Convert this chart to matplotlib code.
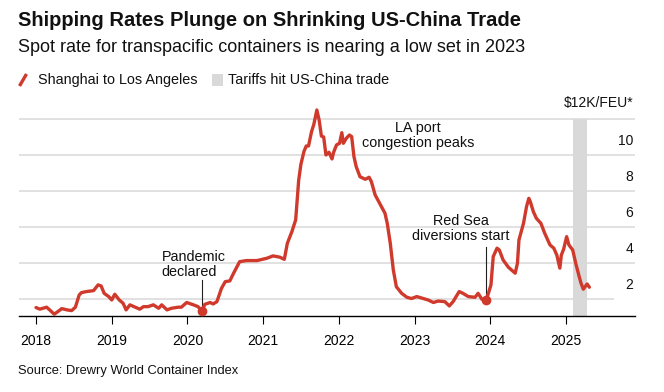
import matplotlib
matplotlib.use('Agg')
import matplotlib.pyplot as plt
import matplotlib.transforms as mtransforms
from matplotlib.lines import Line2D
from matplotlib.patches import Rectangle

W, H, DPI = 664, 392, 100

# ---- data (decimal years, $K per FEU) ----
dates = [2018.00, 2018.05, 2018.14, 2018.18, 2018.24, 2018.29, 2018.34, 2018.41, 2018.47, 2018.52,
         2018.57, 2018.60, 2018.67, 2018.76, 2018.82, 2018.86, 2018.90, 2018.96, 2019.00, 2019.04,
         2019.10, 2019.15, 2019.19, 2019.24, 2019.31, 2019.37, 2019.42, 2019.48, 2019.55, 2019.62,
         2019.66, 2019.73, 2019.79, 2019.88, 2019.92, 2019.99, 2020.08, 2020.14, 2020.19, 2020.23,
         2020.30, 2020.34, 2020.39, 2020.45, 2020.50, 2020.56, 2020.61, 2020.69, 2020.78, 2020.92,
         2021.05, 2021.13, 2021.22, 2021.28, 2021.32, 2021.38, 2021.43, 2021.47, 2021.50, 2021.54,
         2021.57, 2021.60, 2021.64, 2021.67, 2021.71, 2021.74, 2021.77, 2021.80, 2021.83, 2021.87,
         2021.91, 2021.93, 2021.97, 2022.01, 2022.04, 2022.06, 2022.10, 2022.14, 2022.17, 2022.20,
         2022.23, 2022.28, 2022.35, 2022.40, 2022.43, 2022.48, 2022.54, 2022.61, 2022.64, 2022.68,
         2022.72, 2022.76, 2022.83, 2022.90, 2022.96, 2023.03, 2023.10, 2023.18, 2023.25, 2023.31,
         2023.40, 2023.46, 2023.51, 2023.59, 2023.64, 2023.71, 2023.80, 2023.84, 2023.89, 2023.94,
         2023.97, 2024.01, 2024.04, 2024.09, 2024.12, 2024.17, 2024.24, 2024.33, 2024.36, 2024.38,
         2024.44, 2024.48, 2024.51, 2024.53, 2024.57, 2024.61, 2024.67, 2024.72, 2024.79, 2024.84,
         2024.88, 2024.92, 2024.94, 2024.97, 2025.01, 2025.04, 2025.09, 2025.13, 2025.17, 2025.20,
         2025.23, 2025.28, 2025.31]
rates = [1.52, 1.43, 1.54, 1.39, 1.15, 1.30, 1.46, 1.39, 1.35, 1.54,
         2.22, 2.35, 2.41, 2.46, 2.78, 2.72, 2.31, 2.13, 1.94, 2.26,
         1.94, 1.76, 1.39, 1.67, 1.54, 1.43, 1.57, 1.57, 1.67, 1.48,
         1.67, 1.39, 1.48, 1.54, 1.54, 1.80, 1.67, 1.57, 1.32, 1.70,
         1.80, 1.72, 1.85, 2.59, 2.96, 3.00, 3.43, 4.07, 4.13, 4.13,
         4.26, 4.39, 4.32, 4.20, 5.09, 5.74, 6.39, 8.60, 9.50, 10.20,
         10.50, 10.50, 11.30, 11.70, 12.50, 11.94, 11.05, 11.00, 10.00, 10.15,
         9.78, 10.13, 10.56, 10.65, 11.24, 10.65, 10.93, 11.11, 11.02, 9.91,
         9.35, 8.79, 8.65, 8.76, 8.52, 7.78, 7.31, 6.76, 6.20, 5.09,
         3.61, 2.68, 2.31, 2.09, 2.02, 2.13, 2.04, 1.94, 1.80, 1.88,
         1.85, 1.61, 1.85, 2.41, 2.31, 2.13, 2.09, 2.31, 1.98, 1.94,
         2.22, 2.78, 4.35, 4.82, 4.72, 4.17, 3.76, 3.43, 3.98, 5.28,
         6.20, 7.13, 7.59, 7.41, 6.85, 6.48, 6.20, 5.65, 5.00, 4.82,
         4.44, 3.71, 4.44, 4.76, 5.46, 5.00, 4.72, 3.98, 3.33, 2.87,
         2.54, 2.83, 2.65]
year_ticks = [2018, 2019, 2020, 2021, 2022, 2023, 2024, 2025]
year_labels = [str(y) for y in year_ticks]
y_grid = [2, 4, 6, 8, 10, 12]
y_labels = ['2', '4', '6', '8', '10', '\\$12K/FEU*']
tariff_span = (2025.09, 2025.28)
pandemic = (2020.19, 1.32)
red_sea = (2023.94, 1.94)

RED = '#d03a2c'
GRID = '#dedede'
SHADE = '#d9d9d9'

plt.rcParams['font.family'] = ['Liberation Sans', 'DejaVu Sans']

fig = plt.figure(figsize=(W / DPI, H / DPI), dpi=DPI)


def fx(x):
    return x / W


def fy(y):
    return 1 - y / H


X0, X1, XMIN, XMAX = 19, 635, 2017.775, 2025.913
ax = fig.add_axes([fx(X0), fy(316), fx(X1) - fx(X0), fy(101) - fy(316)])
ax.set_xlim(XMIN, XMAX)
ax.set_ylim(1.05, 13.0)
for s in ['top', 'left', 'right']:
    ax.spines[s].set_visible(False)
ax.spines['bottom'].set_color('black')
ax.spines['bottom'].set_linewidth(1.0)
ax.set_yticks([])
ax.set_xticks(year_ticks)
ax.set_xticklabels(year_labels)
ax.tick_params(axis='x', length=6, width=0.8, color='black', pad=7)

# gridlines
for v in y_grid:
    xend = XMIN + (614 - X0) / (X1 - X0) * (XMAX - XMIN) if v == 2 else XMAX
    ax.plot([XMIN, xend], [v, v], color=GRID, lw=1.3, zorder=0, solid_capstyle='butt')

# tariff shading
ax.axvspan(tariff_span[0], tariff_span[1], ymin=0, ymax=(12 - 1.05) / (13 - 1.05),
           color=SHADE, lw=0, zorder=0.5)

# series
ax.plot(dates, rates, color=RED, lw=2.4, solid_joinstyle='round', solid_capstyle='round',
        clip_on=False, zorder=3)

# event markers and leader lines
ax.plot([pandemic[0]], [pandemic[1]], 'o', ms=6, color=RED, zorder=4, clip_on=False)
ax.plot([red_sea[0]], [red_sea[1]], 'o', ms=6, color=RED, zorder=4, clip_on=False)
ax.plot([pandemic[0], pandemic[0]], [pandemic[1] + 0.1, 3.05], color='#222222', lw=0.8, zorder=2)
ax.plot([red_sea[0], red_sea[0]], [red_sea[1] + 0.1, 4.9], color='#222222', lw=0.8, zorder=2)

ann_pand = ax.text(2019.66, 3.93, 'Pandemic\ndeclared', ha='left', va='center',
                   fontsize=10.5, linespacing=1.1, color='#111111')
ann_red = ax.text(2023.61, 5.89, 'Red Sea\ndiversions start', ha='center', va='center',
                  fontsize=10.5, linespacing=1.1, color='#111111')
ann_la = ax.text(2023.05, 11.07, 'LA port\ncongestion peaks', ha='center', va='center',
                 fontsize=10.5, linespacing=1.1, color='#111111')

# y labels above gridlines, right-aligned
blend = mtransforms.blended_transform_factory(ax.transAxes, ax.transData)
ylab_objs = []
for v, lab in zip(y_grid, y_labels):
    off = 0.9 if v == 12 else 0.78
    ylab_objs.append(ax.text((633 - X0) / (X1 - X0), v + off, lab, transform=blend,
                             ha='right', va='center', fontsize=10, color='#111111'))

# header
title = fig.text(fx(18), fy(21), 'Shipping Rates Plunge on Shrinking US-China Trade',
                 ha='left', va='center', fontsize=14, fontweight='bold', color='#111111')
subtitle = fig.text(fx(18), fy(48), 'Spot rate for transpacific containers is nearing a low set in 2023',
                    ha='left', va='center', fontsize=12.5, color='#111111')
leg1 = fig.text(fx(37.5), fy(80), 'Shanghai to Los Angeles', ha='left', va='center',
                fontsize=10.5, color='#111111')
leg2 = fig.text(fx(228.5), fy(80), 'Tariffs hit US-China trade', ha='left', va='center',
                fontsize=10.5, color='#111111')
fig.add_artist(Line2D([fx(19.5), fx(26.5)], [fy(86), fy(74)], color=RED, lw=2.4,
                      solid_capstyle='butt'))
fig.add_artist(Rectangle((fx(211.5), fy(86)), fx(11), fy(74) - fy(86), color=SHADE, lw=0))
source = fig.text(fx(18), fy(371), 'Source: Drewry World Container Index', ha='left', va='center',
                  fontsize=10, color='#111111')

# fit text widths to the reference
fig.canvas.draw()
r = fig.canvas.get_renderer()


def fit(t, target):
    w = t.get_window_extent(r).width
    t.set_fontsize(t.get_fontsize() * target / w)


fit(title, 506)
fit(subtitle, 507)
fit(leg1, 161)
fit(leg2, 162)
fit(source, 222)
fit(ann_la, 113)
for t in (ann_pand, ann_red):
    t.set_fontsize(ann_la.get_fontsize())
probe = fig.text(0, 0, '2018', fontsize=10)
fig.canvas.draw()
fit(probe, 31)
tick_fs = probe.get_fontsize()
probe.remove()
ax.tick_params(axis='x', labelsize=tick_fs)
for t in ylab_objs:
    t.set_fontsize(tick_fs)

fig.savefig('out.png', dpi=DPI)
